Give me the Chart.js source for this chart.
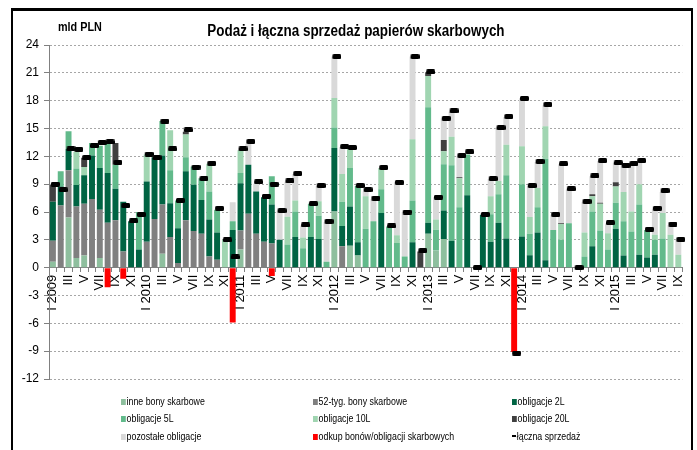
<!DOCTYPE html>
<html>
<head>
<meta charset="utf-8">
<script src="https://cdn.jsdelivr.net/npm/chart.js@4.4.1/dist/chart.umd.min.js"></script>
<style>
  html, body { margin: 0; padding: 0; background: #fff; }
  #wrap { position: relative; width: 697px; height: 450px; overflow: hidden; background: #fff; }
  #c { position: absolute; left: 0; top: 0; }
  #frame { position: absolute; left: 11px; top: 8px; width: 678px; height: 470px; border: 2px solid #000; border-top-width: 3px; box-sizing: content-box; }
  .narrow { font-family: "Liberation Sans", Arial, sans-serif; }
  #unit { position: absolute; left: 58px; top: 19px; font-size: 12px; font-weight: bold; line-height: 16px; color: #000; transform: scaleX(0.9); transform-origin: 0 50%; white-space: nowrap; }
  #title { position: absolute; left: 56px; width: 600px; top: 22px; text-align: center; font-size: 16px; font-weight: bold; line-height: 18px; color: #000; }
  #title span { display: inline-block; transform: scaleX(0.84); transform-origin: 50% 50%; white-space: nowrap; }
  .lg { position: absolute; font-size: 11px; line-height: 14px; color: #000; white-space: nowrap; transform: scaleX(0.8); transform-origin: 0 50%; }
  .sw { display: inline-block; width: 6px; height: 6px; margin-right: 1px; vertical-align: 0px; }
</style>
</head>
<body>
<div id="wrap">
  <canvas id="c" width="697" height="450"></canvas>
  <div id="frame"></div>
  <div id="unit" class="narrow">mld PLN</div>
  <div id="title" class="narrow"><span>Podaż i łączna sprzedaż papierów skarbowych</span></div>
  <div id="legend"></div>
</div>
<script>
// ---- Data (mld PLN), monthly I 2009 .. IX 2015 ----
const months = ['I','II','III','IV','V','VI','VII','VIII','IX','X','XI','XII'];
const years = [2009, 2010, 2011, 2012, 2013, 2014, 2015];
const monthCount = 81;

const inneBony = [0.65,0,5.4,1.05,1.3,0,1.05,0,0,0,0,0, 0,0,1.5,0,0,0,0,0,0,0,0,0, 1.95,0,0,0,0,0,0,0,0,0,0,0, 6.05,0,2.35,1.3,0,0,0,0,0,0,0,0, 3.65,1.85,3.1,0,0,0,0,0,0,0,0,0, 0,0,0,0,0,0,0,0,0,0,0,0, 0,0,0,0,0,0,0,0,0];
const bony52 = [2.25,6.7,5.1,5.55,5.6,7.4,5.2,4.85,5.1,1.75,0,0, 2.8,5.25,5.3,3.3,0.5,5.1,3.95,3.65,1.2,0.85,0,0, 2.05,5.8,3.65,2.8,2.6,0,0,0,0,0,0,0, 0,2.3,0,0,0,0,0,0,0,0,0,0, 0,0,0,0,0,0,0,0,0,0,0,0, 0,0,0,0,0,0,0,0,0,0,0,0, 0,0,0,0,0,0,0,0,0];
const obl2L = [4.2,2.05,2.3,2.3,3.05,4.7,4.5,5.35,3.4,5.35,5.0,1.95, 6.5,6.65,5.3,3.65,3.75,5.3,5.0,3.65,4.0,2.95,0,4.05, 5.1,5.3,4.55,4.8,4.2,3.0,0,3.3,0,3.3,3.1,0, 6.85,2.2,4.25,1.45,0,0,5.9,0,0,0,2.75,0, 1.2,0,3.05,2.9,0,7.8,0,5.7,2.8,4.85,3.15,0, 3.35,1.35,3.8,0.8,0,0,0,0,0,2.3,0,0, 4.2,1.3,0,1.4,1.1,1.4,0,0,0];
const obl5L = [0,1.65,1.9,1.8,0,1.35,2.4,3.15,2.6,0,0,4.05, 0,0,3.7,3.55,3.0,1.5,1.95,2.35,3.0,2.45,0,0.95, 1.1,0,0,0,3.05,0,2.5,2.75,2.1,3.6,2.5,0.65, 2.2,2.6,4.15,6.05,4.2,5.0,2.55,4.45,2.65,1.2,4.5,0, 12.45,2.25,5.0,8.15,6.5,4.4,0,0,2.95,3.05,6.8,0, 5.65,2.3,2.7,10.95,4.05,3.0,4.8,0,1.2,3.75,4.0,1.95, 2.8,3.7,3.9,5.4,2.95,1.6,3.15,0,0];
const obl10L = [0,0,0,1.8,0.9,0,0,0,0,0,0,0, 2.9,0,0,4.3,0,2.45,0,0,3.0,0,3.0,0, 2.45,0,0,0,0,0,3.0,1.2,1.15,0,1.55,0, 3.2,3.0,2.05,0,3.5,0,2.3,0,0.85,0,6.6,0, 3.35,1.1,1.4,3.05,3.15,0,0,0,1.95,1.45,3.3,0, 4.1,1.8,2.1,3.5,0,1.7,0,0,2.6,1.65,2.9,1.75, 1.75,3.15,2.15,2.2,0,0.55,2.75,3.55,1.4];
const obl20L = [1.8,0,0,0,1.0,0,0,0,2.35,0,0,0, 0,0,0,0,0,0.3,0,0,0,0,0,0, 0,0,0,0,0,0,0,0,0,0,0,0, 0,0,0,0,0,0,0,0,0,0,0,1.75, 0.4,0,1.2,0,0.1,0,0,0,0,0,0,0, 0,0,0,0,0,0.1,0,0,0,0.2,0.1,0, 0.45,0,0,0,0,0,0,0,0];
const pozostale = [0,0,0,0,0,0,0,0,0,0,0,0, 0,0,0,0,0,0,0,0,0,0,0,2.05, 0,2.25,0.85,0,0,3.15,3.75,2.85,1.3,0,1.65,4.25, 4.45,2.9,0,0,0.5,2.4,0,0,5.7,4.8,8.9,0, 0,2.4,2.35,2.7,2.3,0,0,0,1.85,5.75,3.0,0, 5.15,3.35,2.8,2.25,1.65,6.35,3.65,0,3.3,1.95,4.5,1.05, 2.1,2.9,5.15,2.3,0,2.8,2.25,1.05,1.6];
const odkup = [0,0,0,0,0,0,0,-2.1,0,-1.2,0,0, 0,0,0,0,0,0,0,0,0,0,0,-5.9, 0,0,0,0,-0.9,0,0,0,0,0,0,0, 0,0,0,0,0,0,0,0,0,0,0,0, 0,0,0,0,0,0,0,0,0,0,0,-9.1, 0,0,0,0,0,0,0,0,0,0,0,0, 0,0,0,0,0,0,0,0,0];
const lacznaSprzedaz = [9.0,8.4,12.8,12.75,11.85,13.15,13.5,13.55,11.35,6.7,5.05,5.75, 12.25,11.85,15.8,12.8,7.25,14.85,10.85,9.6,11.25,6.4,3.0,1.15, 12.8,13.6,9.25,7.7,9.0,6.15,9.35,10.15,4.6,6.9,8.85,5.0, 22.75,13.05,12.95,8.85,8.4,7.5,10.8,4.5,9.2,6.0,22.75,1.85, 21.1,7.6,16.1,16.9,12.1,12.5,0,5.75,9.6,15.1,16.3,-9.2, 18.25,8.85,11.45,17.6,5.75,11.2,8.5,0,7.15,9.9,11.55,4.85, 11.3,11.05,11.25,11.55,4.15,6.4,8.3,4.7,3.05];

// category labels: "I 2009", "II", ..., "IX" (2015)
const categories = [];
for (let i = 0; i < monthCount; i++) {
  const m = i % 12;
  categories.push(m === 0 ? months[m] + ' ' + years[Math.floor(i / 12)] : months[m]);
}

const seriesNames = ['inne bony skarbowe','52-tyg. bony skarbowe','obligacje 2L','obligacje 5L','obligacje 10L','obligacje 20L','pozostałe obligacje','odkup bonów/obligacji skarbowych','łączna sprzedaż'];
const colors = ['#8EBF9E','#808080','#006443','#62BA8B','#A0D5B1','#404040','#D9D9D9','#FF0000','#000000'];

// marker image: black dash shifted a little to the right of bar centre
const mk = document.createElement('canvas');
mk.width = 14; mk.height = 5;
(function(){
  const g = mk.getContext('2d');
  g.fillStyle = '#000';
  g.beginPath();
  if (g.roundRect) g.roundRect(5, 0, 9, 5, 1.5); else g.rect(5, 0, 9, 5);
  g.fill();
})();

const barSets = [inneBony, bony52, obl2L, obl5L, obl10L, obl20L, pozostale, odkup];
const datasets = barSets.map((arr, k) => ({
  type: 'bar',
  label: seriesNames[k],
  data: arr,
  backgroundColor: colors[k],
  borderWidth: 0,
  stack: 'supply',
  categoryPercentage: 0.76,
  barPercentage: 1.0,
  order: 2
}));
datasets.push({
  type: 'line',
  label: seriesNames[8],
  data: lacznaSprzedaz,
  showLine: false,
  pointStyle: mk,
  pointRadius: 4,
  pointHoverRadius: 4,
  borderColor: '#000',
  backgroundColor: '#000',
  stack: 'total',
  order: 0
});

const FONT = '"Liberation Sans", Arial, sans-serif';

new Chart(document.getElementById('c'), {
  type: 'bar',
  data: { labels: categories, datasets },
  options: {
    responsive: false,
    animation: false,
    events: [],
    layout: { padding: { left: 11, top: 45, right: 14, bottom: 71 } },
    plugins: { legend: { display: false }, tooltip: { enabled: false }, title: { display: false } },
    scales: {
      x: {
        stacked: true,
        position: { y: 0 },
        grid: { drawOnChartArea: false, offset: true, tickLength: 4, color: '#808080', tickColor: '#808080' },
        border: { color: '#808080', width: 1 },
        ticks: {
          autoSkip: false, maxRotation: 90, minRotation: 90, padding: 3,
          color: '#000', font: { family: FONT, size: 13 },
          callback: function(v, i) { return i % 2 === 0 ? categories[i] : ''; }
        }
      },
      y: {
        stacked: true,
        min: -12, max: 24,
        afterFit: function(s) { s.width = 38; },
        ticks: { stepSize: 3, padding: 5, color: '#000', font: { family: FONT, size: 12 } },
        grid: { color: '#A6A6A6', tickColor: '#808080', tickLength: 5, lineWidth: 1 },
        border: { color: '#808080', width: 1, dash: [2, 2] }
      }
    }
  }
});

// legend (3 x 3 grid)
const legendCols = [121, 313, 512];
const legendRows = [401, 418, 436];
const lg = document.getElementById('legend');
seriesNames.forEach((name, k) => {
  const d = document.createElement('div');
  d.className = 'lg narrow';
  d.style.left = legendCols[k % 3] + 'px';
  d.style.top = (legendRows[Math.floor(k / 3)] - 7) + 'px';
  const sw = document.createElement('span');
  sw.className = 'sw';
  sw.style.background = colors[k];
  if (k === 8) { sw.style.height = '2px'; sw.style.width = '5px'; sw.style.verticalAlign = '3px'; }
  d.appendChild(sw);
  d.appendChild(document.createTextNode(name));
  lg.appendChild(d);
});
</script>
</body>
</html>
